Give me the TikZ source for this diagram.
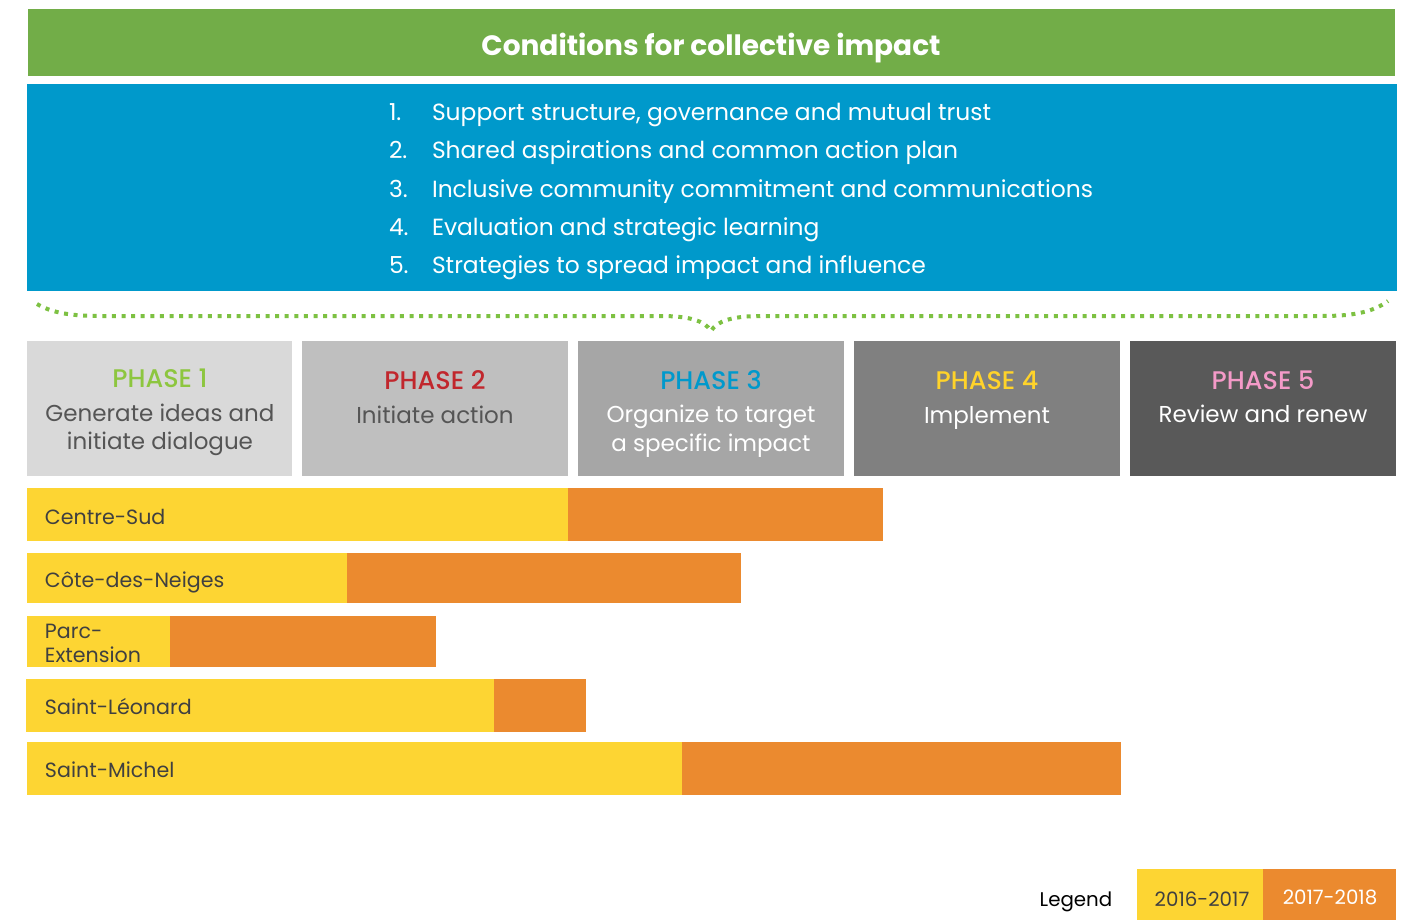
\documentclass[tikz,border=0pt]{standalone}
\usepackage{fontspec}
\setmainfont{Poppins}
\newfontfamily\phasefont{Poppins Medium}
\definecolor{hdrgreen}{HTML}{72AD48}
\definecolor{listblue}{HTML}{0099CB}
\definecolor{dotgreen}{HTML}{7DC142}
\definecolor{ph1}{HTML}{D9D9D9}
\definecolor{ph2}{HTML}{BFBFBF}
\definecolor{ph3}{HTML}{A6A6A6}
\definecolor{ph4}{HTML}{808080}
\definecolor{ph5}{HTML}{595959}
\definecolor{tgreen}{HTML}{8DC63F}
\definecolor{tred}{HTML}{C1272D}
\definecolor{tblue}{HTML}{0099CC}
\definecolor{tyellow}{HTML}{FFD32A}
\definecolor{tpink}{HTML}{F49AC8}
\definecolor{darktxt}{HTML}{555555}
\definecolor{bartxt}{HTML}{404040}
\definecolor{baryellow}{HTML}{FDD533}
\definecolor{barorange}{HTML}{EB8A2F}
\begin{document}
\begin{tikzpicture}[x=1pt,y=-1pt,
  txt/.style={inner sep=0pt, outer sep=0pt},
  listitem/.style={txt, anchor=base west, text=white, font=\fontsize{23.4}{28}\selectfont},
  phtitle/.style={txt, anchor=base, font=\phasefont\fontsize{25.5}{28}\selectfont},
  phsub/.style={txt, anchor=base, align=center, font=\fontsize{23}{28.5}\selectfont},
  barlabel/.style={txt, anchor=west, text=bartxt, align=left, font=\fontsize{20.6}{24}\selectfont},
  legtxt/.style={txt, anchor=base, font=\fontsize{19.8}{24}\selectfont},
  yel/.style={fill=baryellow},
  ora/.style={fill=barorange}]
\useasboundingbox[fill=white] (0,0) rectangle (1409,920);

% header band and list of conditions
\fill[hdrgreen] (28,9) rectangle (1395,76);
\node[txt, anchor=base, text=white, font=\fontsize{28}{32}\selectfont\bfseries] (title) at (711,56) {Conditions for collective impact};
\fill[listblue] (27,84) rectangle (1397,291);
\foreach \n/\t [count=\i] in {1./{Support structure, governance and mutual trust},
  2./{Shared aspirations and common action plan},
  3./{Inclusive community commitment and communications},
  4./{Evaluation and strategic learning},
  5./{Strategies to spread impact and influence}}{
  \node[listitem] (num\i) at (389,{112+8.5+38.3*(\i-1)}) {\n};
  \node[listitem] (cond\i) at (432,{112+8.5+38.3*(\i-1)}) {\t};
}

% dotted brace over the phases
\draw[dotgreen, line width=4pt, dash pattern=on 4pt off 5.6pt]
  (37,304) .. controls (52,313) and (72,316) .. (100,316) -- (660,316)
  .. controls (690,316) and (705,321) .. (711,331)
  .. controls (717,321) and (732,316) .. (762,316) -- (1322,316)
  .. controls (1350,316) and (1372,313) .. (1388,301);

% phases: title line, then description (node baseline = last line)
\fill[ph1] (27,341) rectangle (292,476);
\fill[ph2] (302,341) rectangle (568,476);
\fill[ph3] (578,341) rectangle (844,476);
\fill[ph4] (854,341) rectangle (1120,476);
\fill[ph5] (1130,341) rectangle (1396,476);
\node[phtitle, text=tgreen] (p1) at (160,387) {PHASE 1};
\node[phsub, text=darktxt] (s1) at (160,449.5) {Generate ideas and\\initiate dialogue};
\node[phtitle, text=tred] (p2) at (435,389.5) {PHASE 2};
\node[phsub, text=darktxt] (s2) at (435,423) {Initiate action};
\node[phtitle, text=tblue] (p3) at (711,389.5) {PHASE 3};
\node[phsub, text=white] (s3) at (711,451) {Organize to target\\a specific impact};
\node[phtitle, text=tyellow] (p4) at (987,389.5) {PHASE 4};
\node[phsub, text=white] (s4) at (987,423) {Implement};
\node[phtitle, text=tpink] (p5) at (1263,389.5) {PHASE 5};
\node[phsub, text=white] (s5) at (1263,422) {Review and renew};

% progress bars per neighbourhood
\fill[yel] (27,488) rectangle (568,541);  \fill[ora] (568,488) rectangle (883,541);
\node[barlabel] (b1) at (45,516.5) {Centre-Sud};
\fill[yel] (27,553) rectangle (347,603);  \fill[ora] (347,553) rectangle (741,603);
\node[barlabel] (b2) at (45,582) {Côte-des-Neiges};
\fill[yel] (27,616) rectangle (170,667);  \fill[ora] (170,616) rectangle (436,667);
\node[barlabel] (b3) at (45,643) {Parc-\\Extension};
\fill[yel] (26,679) rectangle (494,732);  \fill[ora] (494,679) rectangle (586,732);
\node[barlabel] (b4) at (45,706.5) {Saint-Léonard};
\fill[yel] (27,742) rectangle (682,795);  \fill[ora] (682,742) rectangle (1121,795);
\node[barlabel] (b5) at (45,770) {Saint-Michel};

% legend
\node[legtxt, text=black] (leg) at (1076,906) {Legend};
\fill[yel] (1137,869) rectangle (1263,920);
\fill[ora] (1263,869) rectangle (1396,920);
\node[legtxt, text=bartxt] (l1) at (1202,906) {2016-2017};
\node[legtxt, text=white] (l2) at (1330,904) {2017-2018};
\end{tikzpicture}
\end{document}
